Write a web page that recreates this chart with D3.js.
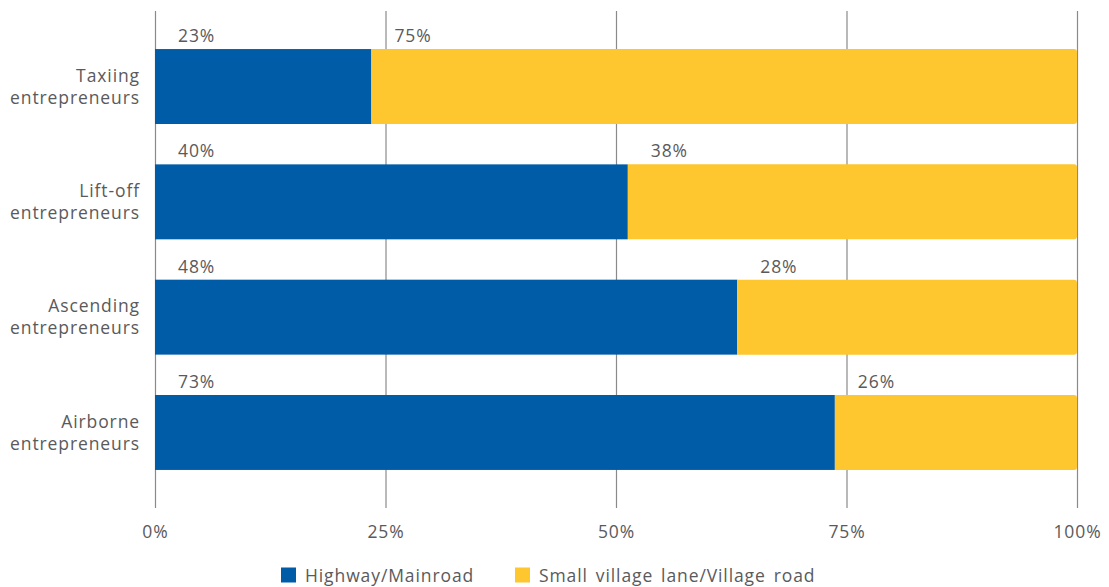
<!DOCTYPE html>
<html>
<head>
<meta charset="utf-8">
<script src="https://cdn.jsdelivr.net/npm/d3@7"></script>
<style>
  html, body { margin: 0; padding: 0; background: #fff; }
  svg { display: block; }
  text { font-family: "Open Sans", "Noto Sans", sans-serif; fill: #5a5a5c; letter-spacing: 0.9px; }
</style>
</head>
<body>
<svg id="chart" width="1109" height="587"></svg>
<script>
// Share of respondents by road type, per entrepreneur segment
const categories = [
  ["Taxiing", "entrepreneurs"],
  ["Lift-off", "entrepreneurs"],
  ["Ascending", "entrepreneurs"],
  ["Airborne", "entrepreneurs"]
];
const highway = [23, 40, 48, 73];
const village = [75, 38, 28, 26];
const seriesNames = ["Highway/Mainroad", "Small village lane/Village road"];
const tickValues = [0, 0.25, 0.5, 0.75, 1];

const colors = ["#005ca7", "#fec62f"];
const fontSize = "17.5px";

const svg = d3.select("#chart");
const plotLeft = 155, plotRight = 1077, plotTop = 11, plotBottom = 508;

const x = d3.scaleLinear().domain([0, 1]).range([plotLeft, plotRight]);
const y = d3.scaleBand()
  .domain(categories.map((c, i) => i))
  .range([plotTop, plotBottom])
  .paddingInner(0.35)
  .paddingOuter(0.33);

// Gridlines and tick labels
const axis = d3.axisBottom(x)
  .tickValues(tickValues)
  .tickFormat(d3.format(".0%"))
  .tickSize(-(plotBottom - plotTop))
  .tickPadding(18);

const gAxis = svg.append("g")
  .attr("transform", `translate(0,${plotBottom})`)
  .call(axis);
gAxis.select(".domain").remove();
gAxis.selectAll(".tick line").attr("stroke", "#8a8a8a").attr("stroke-width", 1.2);
gAxis.selectAll(".tick text")
  .style("font-size", fontSize)
  .style("font-family", "\"Open Sans\", \"Noto Sans\", sans-serif")
  .attr("fill", "#5a5a5c")
  .attr("dy", "0.71em");

// Stack the two series, normalised to 100%
const rows = categories.map((c, i) => {
  const total = highway[i] + village[i];
  return { i, vals: [highway[i], village[i]], shares: [highway[i] / total, village[i] / total] };
});

const bars = svg.append("g");
rows.forEach(r => {
  let acc = 0;
  r.shares.forEach((s, k) => {
    const x0 = x(acc), x1 = x(acc + s);
    const y0 = y(r.i), h = y.bandwidth();
    if (k === r.shares.length - 1) {
      // last segment gets softly rounded right corners
      const rr = 3;
      const p = d3.path();
      p.moveTo(x0, y0);
      p.lineTo(x1 - rr, y0);
      p.quadraticCurveTo(x1, y0, x1, y0 + rr);
      p.lineTo(x1, y0 + h - rr);
      p.quadraticCurveTo(x1, y0 + h, x1 - rr, y0 + h);
      p.lineTo(x0, y0 + h);
      p.closePath();
      bars.append("path").attr("d", p.toString()).attr("fill", colors[k]);
    } else {
      bars.append("rect")
        .attr("x", x0).attr("y", y0)
        .attr("width", x1 - x0).attr("height", h)
        .attr("fill", colors[k]);
    }
    // value label above the start of each segment
    bars.append("text")
      .attr("x", x0 + 23)
      .attr("y", y0 - 7)
      .style("font-size", fontSize)
      .text(r.vals[k] + "%");
    acc += s;
  });
});

// Category labels, two lines each
const gCat = svg.append("g");
categories.forEach((c, i) => {
  const cy = y(i) + y.bandwidth() / 2;
  const t = gCat.append("text")
    .attr("text-anchor", "end")
    .style("font-size", fontSize);
  c.forEach((line, j) => {
    t.append("tspan")
      .attr("x", 140)
      .attr("y", cy + (j - (c.length - 1) / 2) * 22)
      .attr("dy", "0.35em")
      .text(line);
  });
});

// Legend
const legend = svg.append("g").attr("transform", "translate(0,575)");
const legendX = [281, 515];
seriesNames.forEach((name, k) => {
  legend.append("rect")
    .attr("x", legendX[k]).attr("y", -7.5)
    .attr("width", 15).attr("height", 15)
    .attr("fill", colors[k]);
  legend.append("text")
    .attr("x", legendX[k] + 24)
    .attr("y", 6.5)
    .style("font-size", fontSize)
    .style("word-spacing", "2.5px")
    .text(name);
});
</script>
</body>
</html>
